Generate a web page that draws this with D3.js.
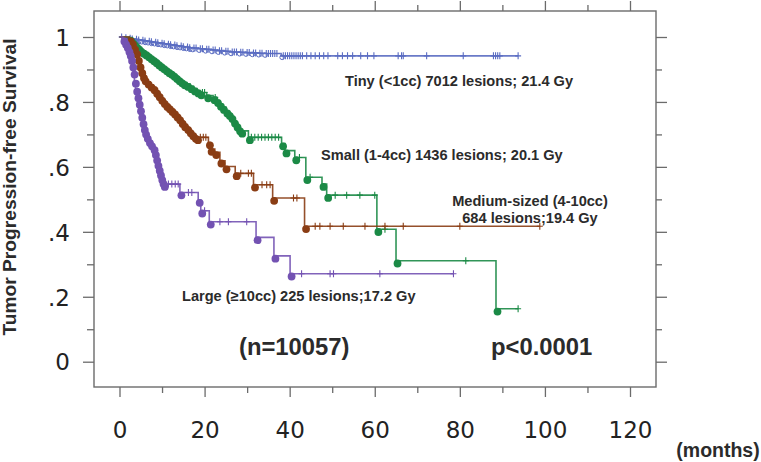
<!DOCTYPE html>
<html><head><meta charset="utf-8">
<script src="https://cdn.jsdelivr.net/npm/d3@7"></script>
<style>
body{margin:0;background:#fff;}
svg{display:block;}
</style></head>
<body><svg id="c" width="761" height="462"></svg>
<script>
// ---- data (months, survival) ----
const tinyEvents = [[1,0.998],[2,0.996],[2.8,0.994],[3.5,0.993],[4.3,0.991],[5,0.99],[5.8,0.988],[6.5,0.987],[7.3,0.985],[8,0.984],[8.8,0.982],[9.5,0.981],[10.3,0.979],[11,0.978],[11.8,0.976],[12.5,0.975],[13.3,0.973],[14,0.972],[14.8,0.97],[15.5,0.969],[16.3,0.967],[17,0.966],[18.5,0.964],[20,0.962],[21.5,0.96],[23,0.958],[24.5,0.956],[26,0.954],[28,0.953],[29.5,0.952],[31,0.951],[32.5,0.95],[34,0.949],[38,0.942]];
const tinyCensor = [0.5,1.5,2.5,3,4,4.5,5.5,6,7,7.5,8.5,9,10,10.5,11.5,12,13,13.5,14.5,15,16,16.5,17.5,18,19,19.5,20.5,21,22,22.5,23.5,24,25,25.5,26.5,27,27.5,28.5,29,30,30.5,31.5,32,33,33.5,34.5,35,35.5,36,36.5,37,38.5,39,39.5,40,40.5,41,41.5,42,42.5,43,44,45,46,47,48,49,51.3,52.4,53.6,54.8,56.7,58.3,59.8,65.5,66.3,66.7,72.2,80.8,87.9,88.4,88.9,89.4,93.7];

const smallEvents = [[2.3,0.997],[2.8,0.99],[3.3,0.983],[3.8,0.976],[4.3,0.97],[4.8,0.963],[5.4,0.957],[6,0.952],[6.6,0.946],[7.2,0.94],[7.8,0.934],[8.4,0.928],[9,0.921],[9.6,0.915],[10.2,0.909],[10.8,0.903],[11.4,0.897],[12,0.892],[12.6,0.886],[13.2,0.879],[13.8,0.872],[14.4,0.866],[15,0.86],[15.8,0.855],[16.6,0.848],[17.4,0.841],[18.2,0.835],[18.9,0.829],[20.5,0.82],[22,0.814],[22.8,0.805],[23.5,0.794],[24.2,0.784],[25,0.773],[25.6,0.765],[26.2,0.756],[26.8,0.742],[27.4,0.73],[28,0.718],[28.5,0.711],[30.3,0.691],[38.1,0.672],[38.9,0.65],[41.2,0.629],[43.8,0.568],[47.6,0.547],[48.7,0.513],[60.5,0.408],[65,0.311],[88.5,0.163]];
const smallCensor = [19.5,20,22.5,31,31.8,32.6,33.4,34.2,35,35.8,36.6,37.4,42.3,44.8,50.7,53.4,56.5,60,62.4,81.4,93.7];

const mediumEvents = [[2.3,0.995],[2.8,0.985],[3.3,0.97],[3.8,0.955],[4.2,0.935],[4.6,0.915],[5,0.897],[5.4,0.882],[5.8,0.872],[6.5,0.862],[7.2,0.853],[7.9,0.845],[8.5,0.834],[9.1,0.823],[9.7,0.812],[10.3,0.802],[10.9,0.793],[11.5,0.786],[12.1,0.778],[12.7,0.77],[13.3,0.761],[13.9,0.752],[14.5,0.741],[15.1,0.731],[15.8,0.722],[16.4,0.712],[17,0.703],[17.6,0.695],[18.1,0.691],[20.9,0.675],[21.3,0.655],[22.4,0.645],[23.6,0.619],[24.8,0.601],[27.2,0.58],[31.5,0.545],[36,0.504],[43.5,0.417]];
const mediumCensor = [3,19,19.7,20.3,28.5,30.3,31,33.5,34.6,35.4,40.9,41.7,46,47.1,49.5,52.6,57.7,62.4,66.7,80,98.8];

const largeEvents = [[0.8,0.995],[1.2,0.985],[1.6,0.975],[2,0.962],[2.3,0.95],[2.6,0.935],[2.9,0.915],[3.2,0.893],[3.5,0.865],[3.8,0.84],[4.1,0.82],[4.4,0.8],[4.7,0.78],[5,0.76],[5.3,0.74],[5.6,0.722],[5.9,0.708],[6.3,0.695],[6.8,0.682],[7.3,0.672],[7.9,0.66],[8.2,0.645],[8.5,0.628],[8.8,0.612],[9.1,0.597],[9.4,0.582],[9.7,0.568],[10,0.556],[10.3,0.547],[14.2,0.521],[18.5,0.498],[19.1,0.465],[21.1,0.431],[32.1,0.383],[36.3,0.326],[40.1,0.271]];
const largeCensor = [11.5,12.3,13.1,13.8,16.2,17.0,20,23.6,25.6,29.9,42.8,49.5,50.3,61.2,78.5];

const seriesNames = ["Tiny","Small","Medium","Large"];
const seriesColors = ["#5a6cc2","#1b8a46","#8a3d14","#7352b2"];
const xTicks = [0,10,20,30,40,50,60,70,80,90,100,110,120];
const xTickLabels = ["0","20","40","60","80","100","120"];
const yTicks = [0,0.1,0.2,0.3,0.4,0.5,0.6,0.7,0.8,0.9,1];
const yTickLabels = ["0",".2",".4",".6",".8","1"];
const labelTexts = ["Tiny (<1cc) 7012 lesions; 21.4 Gy","Small (1-4cc) 1436 lesions; 20.1 Gy","Medium-sized (4-10cc)","684 lesions;19.4 Gy","Large (\u226510cc) 225 lesions;17.2 Gy"];
const nText = "(n=10057)";
const pText = "p<0.0001";
const xUnit = "(months)";
const yTitle = "Tumor Progression-free Survival";

// ---- drawing ----
const svg = d3.select("#c");
const L=94, R=656, T=11, B=387;
const x = d3.scaleLinear().domain([0,120]).range([119.5,630]);
const y = d3.scaleLinear().domain([0,1]).range([361.7,37]);
const frameColor="#6b6b6b", textColor="#2b2b2b";

svg.append("rect").attr("x",L).attr("y",T).attr("width",R-L).attr("height",B-T)
  .attr("fill","none").attr("stroke",frameColor).attr("stroke-width",1.4);

const isMajorX = v => v%20===0;
const isMajorY = v => Math.round(v*10)%2===0;
const tickFont = "'DejaVu Sans', sans-serif";

function styleAxis(g){ g.select(".domain").remove(); g.selectAll("line").attr("stroke",frameColor).attr("stroke-width",1.3); }

// bottom
const gb = svg.append("g").attr("transform",`translate(0,${B})`)
  .call(d3.axisBottom(x).tickValues(xTicks).tickSize(10).tickFormat(v=>isMajorX(v)?xTickLabels[v/20]:""));
styleAxis(gb);
gb.selectAll(".tick line").attr("y2",v=>isMajorX(v)?10:6);
gb.selectAll(".tick text").attr("y",0).attr("dy",0).attr("transform","translate(0,51)")
  .attr("font-family",tickFont).attr("font-size",23).attr("fill","#222");
// top
const gt = svg.append("g").attr("transform",`translate(0,${T})`)
  .call(d3.axisTop(x).tickValues(xTicks).tickSize(10).tickFormat(""));
styleAxis(gt);
gt.selectAll(".tick line").attr("y2",v=>isMajorX(v)?-10:-6);
// left
const gl = svg.append("g").attr("transform",`translate(${L},0)`)
  .call(d3.axisLeft(y).tickValues(yTicks).tickSize(11).tickFormat(v=>isMajorY(v)?yTickLabels[Math.round(v*5)]:""));
styleAxis(gl);
gl.selectAll(".tick line").attr("x2",v=>isMajorY(v)?-11:-7);
gl.selectAll(".tick text").attr("x",-24).attr("dy","0.36em")
  .attr("font-family",tickFont).attr("font-size",23).attr("fill","#222");
// right
const gr = svg.append("g").attr("transform",`translate(${R},0)`)
  .call(d3.axisRight(y).tickValues(yTicks).tickSize(11).tickFormat(""));
styleAxis(gr);
gr.selectAll(".tick line").attr("x2",v=>isMajorY(v)?11:6);

// curves
const series = [
  {events:tinyEvents, censor:tinyCensor, open:true},
  {events:smallEvents, censor:smallCensor},
  {events:mediumEvents, censor:mediumCensor},
  {events:largeEvents, censor:largeCensor}
];
const line = d3.line().x(d=>x(d[0])).y(d=>y(d[1])).curve(d3.curveStepAfter);
function survAt(ev,t){ let s=1; for(const e of ev){ if(e[0]<=t) s=e[1]; } return s; }

series.forEach((s,i)=>{
  const col = seriesColors[i];
  const tEnd = d3.max(s.censor);
  const pts = [[0,1], ...s.events, [tEnd, s.events[s.events.length-1][1]]];
  const g = svg.append("g").attr("class",seriesNames[i]);
  g.append("path").attr("d",line(pts)).attr("fill","none").attr("stroke",col).attr("stroke-width",1.6).attr("stroke-opacity",0.9);
  // censor pluses
  g.selectAll("path.c").data(s.censor).join("path").attr("class","c")
    .attr("d",t=>{const cx=x(t), cy=y(survAt(s.events,t)); return `M${cx-3},${cy}H${cx+3}M${cx},${cy-3.5}V${cy+3.5}`;})
    .attr("stroke",col).attr("stroke-width",1.1);
  // event markers (drawn just below-right of the step corner)
  const dx = s.open?1:1.5, dy = s.open?1.5:2.8;
  g.selectAll("circle").data(s.events).join("circle")
    .attr("cx",d=>x(d[0])+dx).attr("cy",d=>y(d[1])+dy)
    .attr("r",s.open?2.3:3.9)
    .attr("fill",s.open?"none":col).attr("stroke",col).attr("stroke-width",s.open?1:0);
});

// annotations
const bold = sel => sel.attr("font-family","'Liberation Sans', Arial, sans-serif").attr("font-weight","bold").attr("fill",textColor);
const aSize = 14.6;
bold(svg.append("text").attr("x",345).attr("y",86).attr("font-size",aSize).text(labelTexts[0]));
bold(svg.append("text").attr("x",321).attr("y",159.5).attr("font-size",aSize).text(labelTexts[1]));
bold(svg.append("text").attr("x",530).attr("y",205.5).attr("font-size",aSize).attr("text-anchor","middle").text(labelTexts[2]));
bold(svg.append("text").attr("x",530).attr("y",222.5).attr("font-size",aSize).attr("text-anchor","middle").text(labelTexts[3]));
bold(svg.append("text").attr("x",182).attr("y",300.5).attr("font-size",aSize).text(labelTexts[4]));
bold(svg.append("text").attr("x",239).attr("y",355).attr("font-size",23.8).text(nText));
bold(svg.append("text").attr("x",491).attr("y",355).attr("font-size",23.8).text(pText));
bold(svg.append("text").attr("x",718).attr("y",457).attr("font-size",19.5).attr("text-anchor","middle").text(xUnit));
bold(svg.append("text").attr("transform","translate(16,187) rotate(-90)").attr("font-size",19.2).attr("text-anchor","middle").text(yTitle));
</script></body></html>
